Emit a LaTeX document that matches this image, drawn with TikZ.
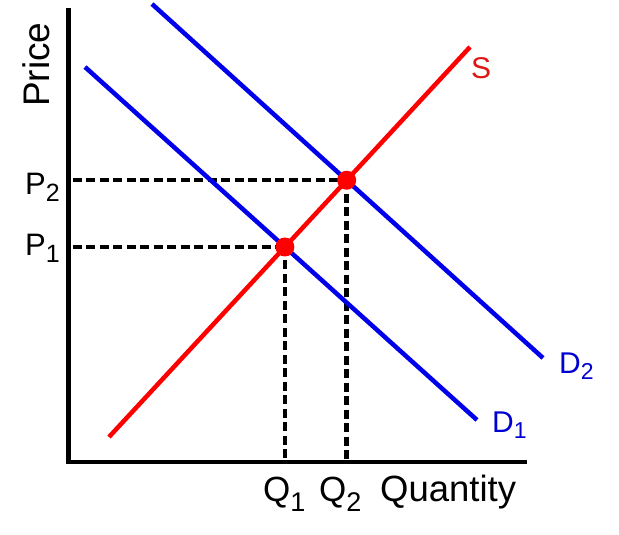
\documentclass[tikz,border=0pt]{standalone}
\usepackage{fontspec}
\setmainfont{Liberation Sans}
\usetikzlibrary{intersections}
\newcommand{\withsub}[5]{{\fontsize{#3}{#3}\selectfont #1\raisebox{-#5}{\fontsize{#4}{#4}\selectfont #2}}}
\definecolor{sred}{RGB}{255,0,0}
\definecolor{dblue}{RGB}{0,0,235}
\definecolor{lred}{RGB}{225,20,20}
\definecolor{lblue}{RGB}{0,0,210}
\begin{document}
\begin{tikzpicture}[x=1pt,y=-1pt,
  axisline/.style={line width=4.5pt,black,line join=miter},
  supply/.style={line width=4.5pt,sred},
  demand/.style={line width=4.5pt,dblue},
  guide/.style={line width=4.5pt,black,dash pattern=on 9pt off 4.5pt},
  eqdot/.style={fill=sred},
  lbl/.style={inner sep=0pt,anchor=base west}]
\useasboundingbox (0,0) rectangle (619,535);
\coordinate (top) at (68.5,8);
\coordinate (origin) at (68.5,462);
\coordinate (xend) at (527,462);
\coordinate (sA) at (109,437);
\coordinate (sB) at (470,47);
\coordinate (d1A) at (85,67);
\coordinate (d1B) at (477,420);
\coordinate (d2A) at (152,4);
\coordinate (d2B) at (543,358);
\path[name path=S] (sA) -- (sB);
\path[name path=D1] (d1A) -- (d1B);
\path[name path=D2] (d2A) -- (d2B);
\path[name intersections={of=S and D1,by=E1}];
\path[name intersections={of=S and D2,by=E2}];
% guides
\draw[guide] ([xshift=4pt]E1 -| origin) -- (E1);
\draw[guide] (E1) -- ([yshift=2pt]E1 |- origin);
\draw[guide] ([xshift=4pt]E2 -| origin) -- (E2);
\draw[guide] (E2) -- ([yshift=2pt]E2 |- origin);
% axes
\draw[axisline] (top) -- (origin) -- (xend);
% curves
\draw[demand] (d1A) -- (d1B);
\draw[demand] (d2A) -- (d2B);
\draw[supply] (sA) -- (sB);
\fill[eqdot] (E1) circle (9.5pt);
\fill[eqdot] (E2) circle (9.5pt);
% labels
\node[lbl,text=lred] (lS) at (471,79) {\fontsize{30}{30}\selectfont S};
\node[lbl,text=lblue] (lD2) at (559,373) {\withsub{D}{2}{30}{23}{0.2em}};
\node[lbl,text=lblue] (lD1) at (492,432) {\withsub{D}{1}{30}{23}{0.2em}};
\node[lbl] (lP2) at (25,194) {\withsub{P}{2}{31}{25}{0.24em}};
\node[lbl] (lP1) at (25,255) {\withsub{P}{1}{31}{25}{0.24em}};
\node[lbl] (lQ1) at (263,501) {\withsub{Q}{1}{35}{27}{0.3em}};
\node[lbl] (lQ2) at (319,501) {\withsub{Q}{2}{35}{27}{0.3em}};
\node[lbl] (lQty) at (380,501) {\fontsize{36.5}{36.5}\selectfont Quantity};
\node[lbl,rotate=90] (lPrice) at (49,107) {\fontsize{37}{37}\selectfont Price};
\end{tikzpicture}
\end{document}
